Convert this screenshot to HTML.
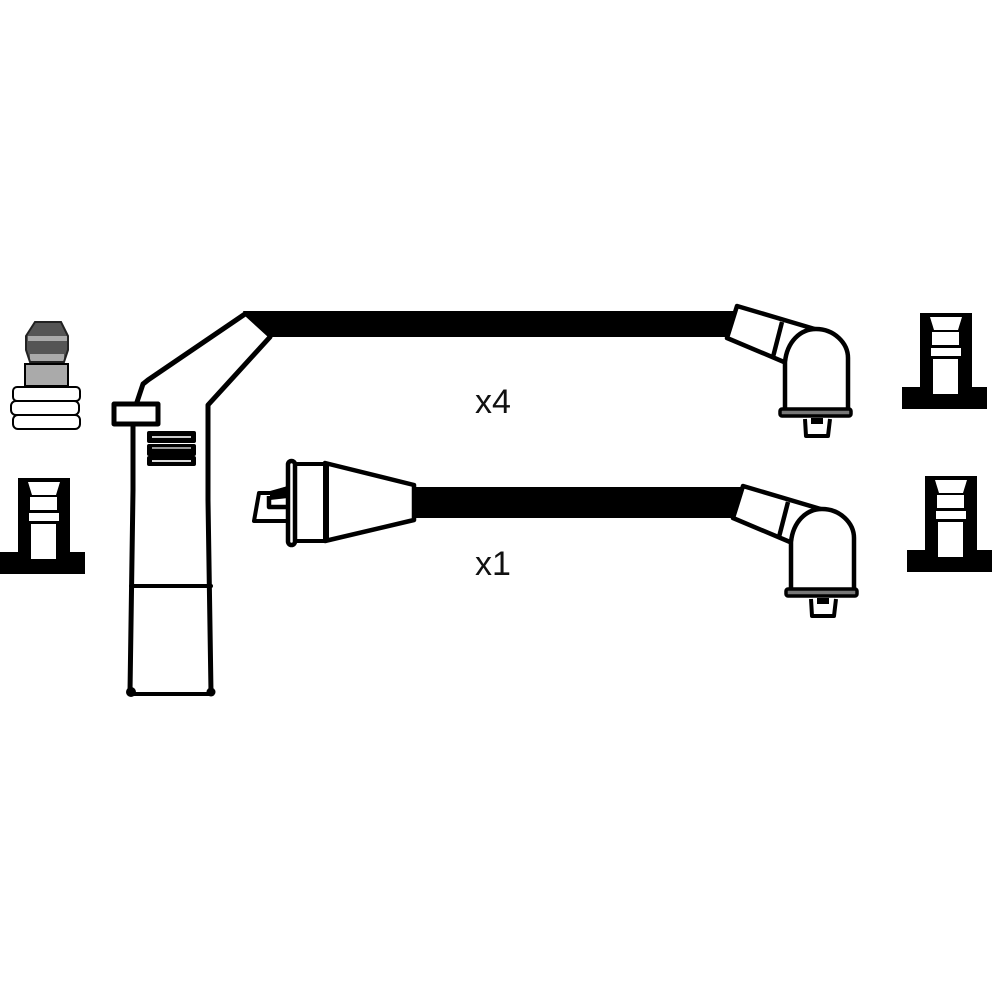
<!DOCTYPE html>
<html><head><meta charset="utf-8"><style>html,body{margin:0;padding:0;background:#fff}svg{display:block}</style></head>
<body>
<svg width="1000" height="1000" viewBox="0 0 1000 1000" xmlns="http://www.w3.org/2000/svg">
<defs>
<g id="boot">
<path d="M18 478H70V552H85V574H0V552H18Z" fill="#000"/>
<path d="M28 482H60L56 495H32Z" fill="#fff"/>
<rect x="30" y="497" width="27" height="13" fill="#fff"/>
<rect x="29" y="513" width="30" height="8" fill="#fff"/>
<rect x="31" y="524" width="25" height="35" fill="#fff"/>
</g>
<g id="cap" fill="none" stroke="#000" stroke-width="4.5" stroke-linejoin="round">
<path d="M737 306L818 330L800 345L784 362L727 338Z" fill="#fff"/>
<path d="M782 322L773 357"/>
<path d="M785 409V362C787 342 800 329 816 329C834 329 848 343 848 358V409" fill="#fff"/>
<path d="M805 419L806 436H828L830 419" fill="#fff" stroke-width="4"/>
<rect x="780" y="409" width="71" height="7" rx="2" fill="#777" stroke-width="3.5"/>
<rect x="811" y="418" width="12" height="6" fill="#000" stroke="none"/>
</g>
</defs>

<!-- main cables -->
<rect x="274" y="311" width="461" height="26" fill="#000"/>
<rect x="412" y="487" width="330" height="31" fill="#000"/>

<!-- spark plug style terminal -->
<path d="M35 322H61L68 336V350L64 362H30L26 350V336Z" fill="#555"/>
<rect x="28" y="336" width="40" height="5" fill="#aaa"/>
<rect x="30" y="354" width="34" height="7" fill="#aaa"/>
<path d="M35 322H61L68 336V350L64 362H30L26 350V336Z" fill="none" stroke="#222" stroke-width="2"/>
<rect x="25" y="364" width="43" height="22" fill="#aaa" stroke="#000" stroke-width="2"/>
<g fill="#fff" stroke="#000" stroke-width="2">
<rect x="13" y="387" width="67" height="14" rx="4"/>
<rect x="11" y="401" width="68" height="14" rx="5"/>
<rect x="13" y="415" width="67" height="14" rx="5"/>
</g>

<use href="#boot"/>
<use href="#boot" x="902" y="-165"/>
<use href="#boot" x="907" y="-2"/>

<!-- long boot -->
<g fill="none" stroke="#000" stroke-width="5" stroke-linejoin="round" stroke-linecap="round">
<path d="M137 402L143 384L148 380L245 314"/>
<path d="M270 337L208 405V500L211 692"/>
<path d="M133 424V490L130 692"/>
<rect x="114" y="404" width="44" height="20" fill="#fff"/>
<path d="M131 586H211" stroke-width="4"/>
<path d="M130 694H212" stroke-width="4"/>
</g>
<path d="M243 311L275 311V337H268L245 316Z" fill="#000"/>
<circle cx="131" cy="692" r="5" fill="#000"/>
<circle cx="211" cy="692" r="4.5" fill="#000"/>
<rect x="147" y="431" width="49" height="12" rx="2" fill="#000"/>
<rect x="147" y="444" width="49" height="12" rx="2" fill="#000"/>
<rect x="147" y="456" width="49" height="10" rx="2" fill="#000"/>
<rect x="152" y="436" width="39" height="2" fill="#ccc"/>
<rect x="152" y="447" width="39" height="2" fill="#999"/>
<rect x="152" y="460" width="39" height="2" fill="#ddd"/>

<!-- coil connector -->
<g fill="none" stroke="#000" stroke-width="4.5" stroke-linejoin="round">
<path d="M325 463L414 485V520L325 541Z" fill="#fff"/>
<path d="M295 464H325V541H295Z" fill="#fff" stroke-width="4"/>
<rect x="288" y="461" width="7" height="84" rx="3.5" fill="#fff"/>
<path d="M288 488L272 493H259L254 521H288" stroke-width="4"/>
<path d="M269 496V507H288" stroke-width="4.5"/>
</g>
<path d="M270 491L288 486V498L270 500Z" fill="#000"/>
<rect x="324" y="463" width="5" height="78" fill="#000"/>

<use href="#cap"/>
<use href="#cap" x="6" y="180"/>

<g font-family="'Liberation Sans',sans-serif" font-size="34" fill="#111">
<text x="475" y="413">x4</text>
<text x="475" y="575">x1</text>
</g>
</svg>
</body></html>
